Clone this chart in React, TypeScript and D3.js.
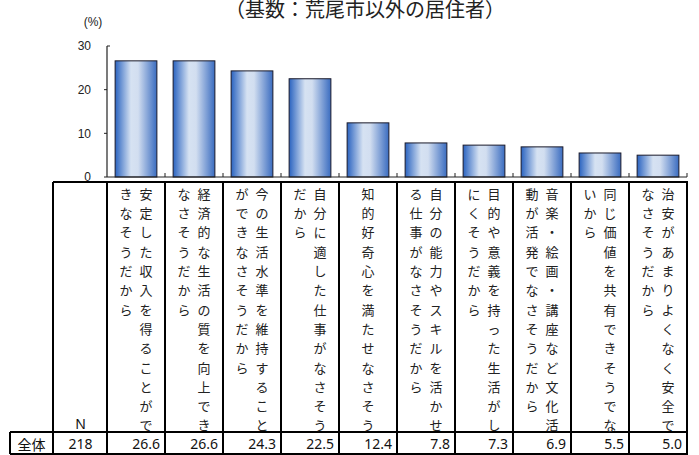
import React from "react";
import * as d3 from "d3";

const title = "（基数：荒尾市以外の居住者）";
const categories = [
  "安定した収入を得ることができなそうだから",
  "経済的な生活の質を向上できなさそうだから",
  "今の生活水準を維持することができなさそうだから",
  "自分に適した仕事がなさそうだから",
  "知的好奇心を満たせなさそう",
  "自分の能力やスキルを活かせる仕事がなさそうだから",
  "目的や意義を持った生活がしにくそうだから",
  "音楽・絵画・講座など文化活動が活発でなさそうだから",
  "同じ価値を共有できそうでないから",
  "治安があまりよくなく安全でなさそうだから",
];
const values = [26.6, 26.6, 24.3, 22.5, 12.4, 7.8, 7.3, 6.9, 5.5, 5.0];
const valueLabels = ["26.6", "26.6", "24.3", "22.5", "12.4", "7.8", "7.3", "6.9", "5.5", "5.0"];
const yTicks = [0, 10, 20, 30];
const rowLabel = "全体";
const nLabel = "N";
const nValue = "218";
const unitLabel = "(%)";

const W = 699;
const H = 455;
const CHARS_PER_COL = 13;

export default function App() {
  const x = d3
    .scaleBand<number>()
    .domain(categories.map((_, i) => i))
    .range([107, 687])
    .paddingInner(0.28)
    .paddingOuter(0.14);
  const y = d3.scaleLinear().domain([0, 30]).range([177, 46]);
  const step = x.step();
  const x0 = 107;
  const cellLeft = (i: number) => x0 + i * step;

  const tableTop = 182;
  const rowDiv = 432;
  const tableBottom = 454;
  const charY0 = 193.3;
  const charStep = 19.3;

  const cjk = "'Noto Sans CJK JP', 'Noto Sans', sans-serif";

  return (
    <svg
      width={W}
      height={H}
      style={{ position: "absolute", left: 0, top: 0, background: "#fff" }}
    >
      <defs>
        <linearGradient id="barGrad" x1="0" x2="1" y1="0" y2="0">
          <stop offset="0%" stopColor="#2a63c0" />
          <stop offset="38%" stopColor="#d6e2f2" />
          <stop offset="55%" stopColor="#d2def0" />
          <stop offset="100%" stopColor="#3a6cc0" />
        </linearGradient>
      </defs>

      <text
        x={365}
        y={17}
        textAnchor="middle"
        fontFamily={cjk}
        fontSize={20}
        fill="#222"
      >
        {title}
      </text>

      <text x={93} y={26} textAnchor="middle" fontFamily="'Liberation Sans', Arial, sans-serif" fontSize={12} fill="#222">
        {unitLabel}
      </text>

      {/* y axis */}
      <line x1={107} x2={107} y1={y(30)} y2={y(0)} stroke="#222" strokeWidth={1.2} />
      {yTicks.map((t) => (
        <g key={t}>
          <line
            x1={t === 30 ? 107 : 104}
            x2={t === 30 ? 110 : 107}
            y1={y(t)}
            y2={y(t)}
            stroke="#222"
            strokeWidth={1}
          />
          <text
            x={91}
            y={y(t)}
            dy="0.35em"
            textAnchor="end"
            fontFamily="'Liberation Sans', Arial, sans-serif"
            fontSize={12}
            fill="#222"
          >
            {t}
          </text>
        </g>
      ))}

      {/* bars */}
      {values.map((v, i) => (
        <rect
          key={i}
          x={x(i)}
          y={y(v)}
          width={x.bandwidth()}
          height={y(0) - y(v)}
          fill="url(#barGrad)"
          stroke="#1a1a2a"
          strokeWidth={1}
        />
      ))}

      {/* x axis */}
      <line x1={107} x2={687} y1={y(0)} y2={y(0)} stroke="#222" strokeWidth={1.2} />
      {categories.map((_, i) => (
        <line
          key={i}
          x1={cellLeft(i + 1)}
          x2={cellLeft(i + 1)}
          y1={y(0)}
          y2={y(0) - 4}
          stroke="#222"
          strokeWidth={1}
        />
      ))}

      {/* table */}
      <g stroke="#000" strokeWidth={2} fill="none">
        <line x1={53} x2={cellLeft(10) + 1} y1={tableTop} y2={tableTop} />
        <line x1={10} x2={cellLeft(10) + 1} y1={rowDiv} y2={rowDiv} />
        <line x1={10} x2={cellLeft(10) + 1} y1={tableBottom} y2={tableBottom} />
        <line x1={10} x2={10} y1={rowDiv} y2={tableBottom} />
        <line x1={53} x2={53} y1={tableTop} y2={tableBottom} />
        {d3.range(11).map((i) => (
          <line key={i} x1={cellLeft(i)} x2={cellLeft(i)} y1={tableTop} y2={tableBottom} />
        ))}
      </g>

      {/* vertical labels */}
      {categories.map((c, i) => {
        const chars = Array.from(c);
        const cols: string[][] = [];
        for (let k = 0; k < chars.length; k += CHARS_PER_COL) cols.push(chars.slice(k, k + CHARS_PER_COL));
        const cx = cellLeft(i) + step / 2;
        return (
          <g key={i}>
            {cols.map((col, ci) => {
              const colX = cols.length === 1 ? cx : cx + 10 - ci * 20;
              return col.map((ch, ri) => (
                <text
                  key={ci + "-" + ri}
                  x={colX}
                  y={charY0 + ri * charStep}
                  textAnchor="middle"
                  dominantBaseline="central"
                  fontFamily={cjk}
                  fontSize={13}
                  fill="#222"
                >
                  {ch}
                </text>
              ));
            })}
          </g>
        );
      })}

      <text x={80.5} y={423} textAnchor="middle" dominantBaseline="central" fontFamily="'Noto Sans', sans-serif" fontSize={14} fill="#111">
        {nLabel}
      </text>
      <text x={31.5} y={443.5} textAnchor="middle" dominantBaseline="central" fontFamily={cjk} fontSize={14} fill="#111">
        {rowLabel}
      </text>
      <text x={80.5} y={443.5} textAnchor="middle" dominantBaseline="central" fontFamily="'Noto Sans', sans-serif" fontSize={14} fill="#111">
        {nValue}
      </text>
      {valueLabels.map((s, i) => (
        <text
          key={i}
          x={cellLeft(i + 1) - 5}
          y={443.5}
          textAnchor="end"
          dominantBaseline="central"
          fontFamily="'Noto Sans', sans-serif"
          fontSize={14}
          fill="#111"
        >
          {s}
        </text>
      ))}
    </svg>
  );
}
